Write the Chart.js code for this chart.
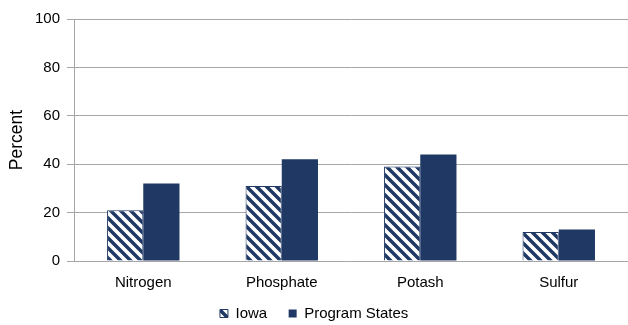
<!DOCTYPE html>
<html>
<head>
<meta charset="utf-8">
<script src="https://cdn.jsdelivr.net/npm/chart.js@4/dist/chart.umd.min.js"></script>
<style>
  html, body { margin: 0; padding: 0; background: #fff; }
  #wrap { width: 628px; height: 325px; }
</style>
</head>
<body>
<div id="wrap"><canvas id="chart"></canvas></div>
<script>
// data
var categories = ['Nitrogen', 'Phosphate', 'Potash', 'Sulfur'];
var iowa = [21, 31, 39, 12];
var programStates = [32, 42, 44, 13];
var yTicks = [0, 20, 40, 60, 80, 100];

var navy = '#1f3864';

// diagonal stripes, top-left to bottom-right
function makeHatch() {
    var s = 10;
    var c = document.createElement('canvas');
    c.width = s; c.height = s;
    var g = c.getContext('2d');
    g.fillStyle = '#fff';
    g.fillRect(0, 0, s, s);
    g.strokeStyle = navy;
    g.lineWidth = 3.5;
    g.beginPath();
    g.moveTo(-s, -s); g.lineTo(2 * s, 2 * s);
    g.moveTo(-s, 0); g.lineTo(s, 2 * s);
    g.moveTo(0, -s); g.lineTo(2 * s, s);
    g.stroke();
    return document.createElement('canvas').getContext('2d').createPattern(c, 'repeat');
}
var hatch = makeHatch();

Chart.defaults.font.family = '"Liberation Sans", Arial, sans-serif';
Chart.defaults.color = '#000';

new Chart(document.getElementById('chart'), {
    type: 'bar',
    data: {
        labels: categories,
        datasets: [
            {
                label: 'Iowa',
                data: iowa,
                backgroundColor: hatch,
                borderColor: navy,
                borderWidth: 1
            },
            {
                label: 'Program States',
                data: programStates,
                backgroundColor: navy,
                borderColor: navy,
                borderWidth: 0
            }
        ]
    },
    options: {
        responsive: true,
        maintainAspectRatio: false,
        animation: false,
        // the original plot area runs a little past the right edge
        layout: { padding: { top: 19, right: -10, left: 7, bottom: -6 } },
        datasets: {
            bar: { categoryPercentage: 0.523, barPercentage: 1 }
        },
        scales: {
            x: {
                grid: { display: false },
                border: { display: true, color: '#a6a6a6' },
                ticks: { font: { size: 15 }, padding: 5 }
            },
            y: {
                min: 0,
                max: 100,
                afterBuildTicks: function(axis) {
                    axis.ticks = yTicks.map(function(v) { return { value: v }; });
                },
                grid: { color: '#a6a6a6', tickLength: 7 },
                border: { display: true, color: '#a6a6a6' },
                ticks: { font: { size: 15 }, padding: 7 },
                title: {
                    display: true,
                    text: 'Percent',
                    font: { size: 17.5 },
                    padding: { top: 0, bottom: 0 }
                }
            }
        },
        plugins: {
            legend: {
                position: 'bottom',
                labels: {
                    boxWidth: 8,
                    boxHeight: 8,
                    padding: 9,
                    font: { size: 15 },
                    generateLabels: function(chart) {
                        var items = Chart.defaults.plugins.legend.labels.generateLabels(chart);
                        // wider gap between entries, and pull the legend back to centre
                        items[0].text = items[0].text + '   ';
                        items[1].text = items[1].text + '    ';
                        return items;
                    }
                }
            },
            tooltip: { enabled: false }
        }
    }
});
</script>
</body>
</html>
